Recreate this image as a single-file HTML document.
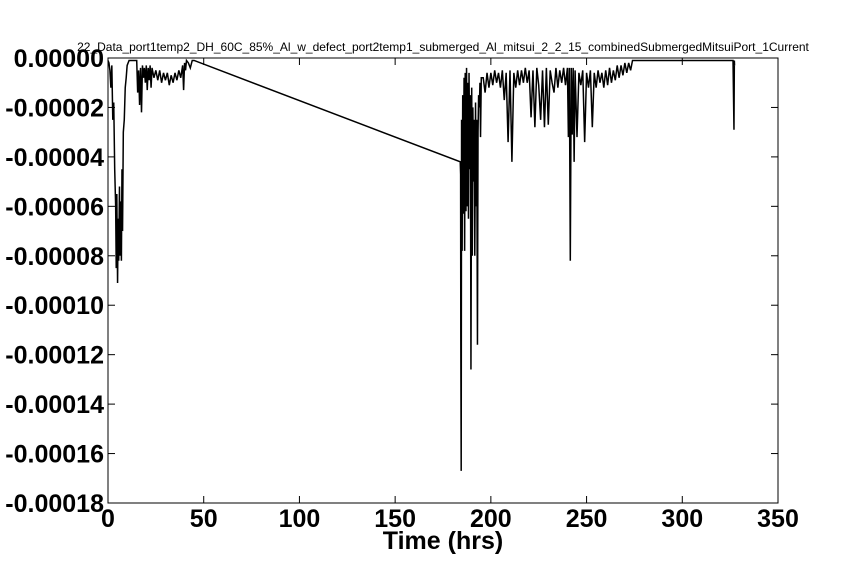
<!DOCTYPE html>
<html><head><meta charset="utf-8"><style>
html,body{margin:0;padding:0;background:#fff;}
svg{display:block;font-family:"Liberation Sans",sans-serif;}
</style></head><body>
<svg id="chart" width="864" height="576" viewBox="0 0 864 576">
<rect width="864" height="576" fill="#fff"/>
<text x="443" y="51" font-size="12" text-anchor="middle">22_Data_port1temp2_DH_60C_85%_Al_w_defect_port2temp1_submerged_Al_mitsui_2_2_15_combinedSubmergedMitsuiPort_1Current</text>
<g id="axes"></g>
<g id="series"></g>
<rect x="108" y="58" width="670" height="445" fill="none" stroke="#000" stroke-width="1"/>
<text x="443" y="549" font-size="25" font-weight="bold" text-anchor="middle">Time (hrs)</text>
</svg>
<script>
const xTicks = [0,50,100,150,200,250,300,350];
const yTicks = [0,-0.00002,-0.00004,-0.00006,-0.00008,-0.0001,-0.00012,-0.00014,-0.00016,-0.00018];
const yTickLabels = ["0.00000","-0.00002","-0.00004","-0.00006","-0.00008","-0.00010","-0.00012","-0.00014","-0.00016","-0.00018"];
// time (hrs)
const times = [
0,0.5,1,1.5,2,2.5,3,3.5,4,4.3,
4.6,5,5.3,5.6,6,6.3,6.6,7,7.3,7.6,
8,8.5,9,9.5,10,11,12,14,15,15.5,
16,16.5,17,17.5,18,18.5,19,19.5,20,20.5,
21,21.5,22,22.5,23,24,25,26,27,28,
29,30,31,32,33,34,35,36,37,38,
39,39.5,40,40.5,41,42,43,44,45,
184,184.2,184.3,184.5,184.7,185,185.3,185.6,186,186.3,
186.6,187,187.3,187.6,188,188.3,188.6,189,189.3,189.6,
190,190.3,190.6,191,191.3,191.6,192,192.3,192.6,193,
193.3,193.6,194,194.3,194.6,195,
196,197,198,199,200,201,202,203,204,205,
206,207,208,209,210,211,212,213,214,215,
216,217,218,219,220,221,222,223,224,225,
226,227,228,229,230,231,232,233,234,235,
236,237,238,239,240,240.5,241,241.5,242,242.5,
243,243.5,244,245,246,247,248,249,250,251,
252,253,254,255,256,257,258,259,260,261,
262,263,264,265,266,267,268,269,270,271,
272,273,274,275,
326.5,327,327.2,327.3];
// current (microamps)
const currents = [
-1,-2,-5,-12,-3,-25,-18,-45,-60,-85,
-55,-91,-65,-82,-52,-80,-58,-82,-45,-70,
-30,-25,-12,-8,-3,-1,-1,-1,-1,-14,
-5,-19,-4,-22,-3,-8,-4,-10,-3,-13,
-4,-9,-3,-12,-4,-8,-5,-9,-5,-10,
-6,-9,-6,-11,-7,-10,-6,-9,-5,-8,
-3,-13,-2,-5,-1,-2,-4,-1,-1,
-42,-47,-112,-167,-25,-78,-15,-63,-8,-78,
-6,-62,-4,-60,-10,-65,-6,-45,-15,-126,
-12,-80,-20,-50,-25,-80,-18,-60,-25,-116,
-30,-15,-20,-10,-32,-8,
-8,-14,-6,-12,-6,-11,-5,-10,-6,-12,
-5,-17,-6,-34,-5,-42,-6,-12,-5,-11,
-5,-10,-4,-10,-5,-24,-5,-28,-4,-11,
-25,-5,-28,-4,-27,-5,-10,-14,-4,-12,
-5,-10,-4,-11,-4,-32,-4,-82,-4,-31,
-4,-42,-5,-32,-6,-11,-5,-34,-6,-12,
-5,-28,-6,-12,-5,-10,-6,-12,-5,-11,
-4,-10,-5,-9,-3,-8,-3,-7,-2,-6,
-2,-5,-1,-1,
-1,-29,-1,-3];
const X0=108,X1=778,Y0=58,Y1=503;
function xs(t){return X0+(t-0)/(350-0)*(X1-X0);}
function ys(v){return Y0+(0-v)/(0.00018)*(Y1-Y0);}
const NS="http://www.w3.org/2000/svg";
const axes=document.getElementById('axes');
xTicks.forEach(t=>{
  const x=xs(t);
  [[Y1,Y1-7],[Y0,Y0+7]].forEach(p=>{
    const l=document.createElementNS(NS,'line');
    l.setAttribute('x1',x);l.setAttribute('x2',x);l.setAttribute('y1',p[0]);l.setAttribute('y2',p[1]);
    l.setAttribute('stroke','#000');
    
    
    axes.appendChild(l);
  });
  const tx=document.createElementNS(NS,'text');
  tx.setAttribute('x',x);tx.setAttribute('y',Y1+24);tx.setAttribute('font-size','25');tx.setAttribute('font-weight','bold');tx.setAttribute('text-anchor','middle');
  tx.textContent=t;
  
  
  axes.appendChild(tx);
});
yTicks.forEach((v,i)=>{
  const y=ys(v);
  [[X0,X0+7],[X1,X1-7]].forEach(p=>{
    const l=document.createElementNS(NS,'line');
    l.setAttribute('x1',p[0]);l.setAttribute('x2',p[1]);l.setAttribute('y1',y);l.setAttribute('y2',y);
    l.setAttribute('stroke','#000');
    
    
    axes.appendChild(l);
  });
  const tx=document.createElementNS(NS,'text');
  tx.setAttribute('x',X0-4);tx.setAttribute('y',y+9);tx.setAttribute('font-size','25');tx.setAttribute('font-weight','bold');tx.setAttribute('text-anchor','end');
  tx.textContent=yTickLabels[i];
  
  
  axes.appendChild(tx);
});
const pts=times.map((t,i)=>xs(t).toFixed(2)+','+ys(currents[i]*1e-6).toFixed(2)).join(' ');
const pl=document.createElementNS(NS,'polyline');
pl.setAttribute('points',pts);
pl.setAttribute('fill','none');pl.setAttribute('stroke','#000');pl.setAttribute('stroke-width','1.5');pl.setAttribute('stroke-linejoin','miter');


document.getElementById('series').appendChild(pl);
</script>
</body></html>
